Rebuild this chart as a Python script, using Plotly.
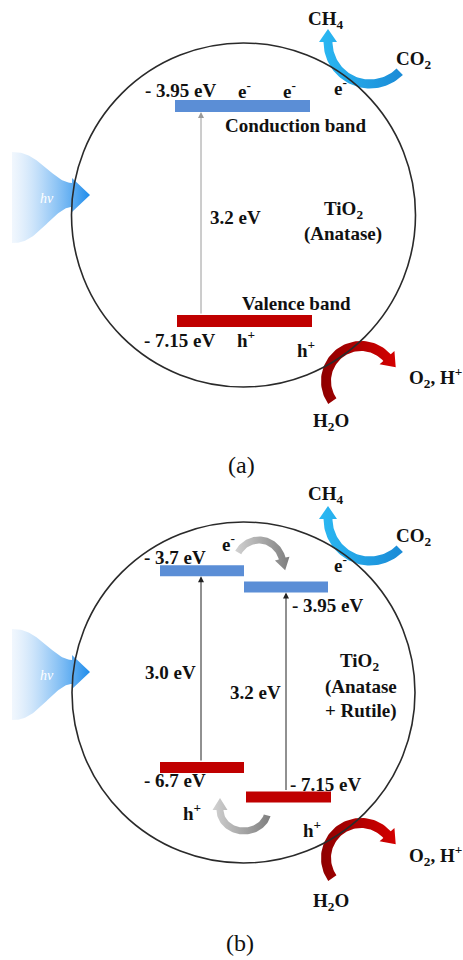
import numpy as np
import plotly.graph_objects as go

# ---------------- data ----------------
A_CB = [-3.95]                 # conduction band edge (eV), panel (a)
A_VB = [-7.15]                 # valence band edge (eV), panel (a)
A_GAP = ["3.2 eV"]
B_CB = [-3.7, -3.95]           # panel (b): rutile, anatase
B_VB = [-6.7, -7.15]
B_GAP = ["3.0 eV", "3.2 eV"]
A_MATERIAL = ["TiO<sub>2</sub>", "(Anatase)"]
B_MATERIAL = ["TiO<sub>2</sub>", "(Anatase", "+ Rutile)"]
PANEL_TAGS = ["(a)", "(b)"]

W, H = 463, 960
SERIF = "Liberation Serif, Times New Roman, serif"
TXT = "#111111"
BLUE_BAND = "#5B8ED6"
RED_BAND = "#C00000"


def elabel(E):
    return f"- {abs(E):g} eV"


# energy -> pixel scales for each panel
def ya(E):
    return 106 + 67.2 * (-3.95 - E)


def yb(E):
    return 570.7 + 65.6 * (-3.7 - E)


fig = go.Figure()


# ---------------- helpers ----------------
def arc_arrow(cx, cy, rx, ry, th0, th1, w, head_len, head_w, cscale):
    th = np.radians(np.linspace(th0, th1, 60))
    ox = cx + (rx + w / 2) * np.cos(th)
    oy = cy - (ry + w / 2) * np.sin(th)
    ix = cx + (rx - w / 2) * np.cos(th)
    iy = cy - (ry - w / 2) * np.sin(th)
    te = th[-1]
    ex, ey = cx + rx * np.cos(te), cy - ry * np.sin(te)
    if th1 < th0:
        dx, dy = rx * np.sin(te), ry * np.cos(te)
    else:
        dx, dy = -rx * np.sin(te), -ry * np.cos(te)
    n = np.hypot(dx, dy)
    dx, dy = dx / n, dy / n
    nx, ny = dy, -dx
    if (ex - cx) * nx + (ey - cy) * ny < 0:
        nx, ny = -nx, -ny
    h1 = (ex + nx * head_w / 2, ey + ny * head_w / 2)
    h2 = (ex - nx * head_w / 2, ey - ny * head_w / 2)
    tip = (ex + dx * head_len, ey + dy * head_len)
    xs = list(ox) + [h1[0], tip[0], h2[0]] + list(ix[::-1]) + [ox[0]]
    ys = list(oy) + [h1[1], tip[1], h2[1]] + list(iy[::-1]) + [oy[0]]
    fig.add_trace(go.Scatter(
        x=xs, y=ys, mode="lines", fill="toself", line=dict(width=0),
        fillgradient=dict(type="horizontal", colorscale=cscale),
        hoverinfo="skip", showlegend=False))


def light(dy):
    L, R, tipx = 12, 72, 90
    t = np.linspace(0, 1, 50)
    g = (3 * t ** 2 - 2 * t ** 3) ** 1.3
    xs_top = L + (R - L) * t
    ys_top = 152 + (183 - 152) * g
    xs_bot = xs_top[::-1]
    ys_bot = (243 + (207 - 243) * g)[::-1]
    xs = list(xs_top) + [R, tipx, R] + list(xs_bot) + [L]
    ys = list(ys_top) + [178, 195, 212] + list(ys_bot) + [152]
    fig.add_trace(go.Scatter(
        x=xs, y=[v + dy for v in ys], mode="lines", fill="toself",
        line=dict(width=0),
        fillgradient=dict(type="horizontal",
                          colorscale=[[0, "rgba(215,232,250,0.35)"],
                                      [0.45, "rgba(140,195,245,0.75)"],
                                      [1, "#1E8CEB"]]),
        hoverinfo="skip", showlegend=False))


BLUE_CS = [[0, "#2BB9F3"], [1, "#1A8AD6"]]
RED_CS = [[0, "#8E0000"], [1, "#D40000"]]
GRAY_CS = [[0, "#D2D2D2"], [1, "#7E7E7E"]]

for dy in (0, 477):
    light(dy)
    arc_arrow(370, 42 + dy, 42, 42, -45, -180, 9, 13, 18, BLUE_CS)
    arc_arrow(361, 381 + dy, 35, 35, 215, 42, 10, 13, 20, RED_CS)

# gray electron / hole transfer arrows in (b)
arc_arrow(259, 565, 24, 25, 150, 15, 7, 12, 15, GRAY_CS)
arc_arrow(244, 810, 24, 21, -15, -180, 7, 12, 15, GRAY_CS)

# ---------------- bands ----------------
cb_x0 = [175, 160, 244]
cb_x1 = [310, 244, 328]
vb_x0 = [177, 160, 246]
vb_x1 = [312, 244, 331]
cb_y = [ya(A_CB[0]), yb(B_CB[0]), yb(B_CB[1])]
vb_y = [ya(A_VB[0]), yb(B_VB[0]), yb(B_VB[1])]

fig.add_trace(go.Bar(orientation="h", y=cb_y,
                     x=[b - a for a, b in zip(cb_x0, cb_x1)], base=cb_x0,
                     width=[12, 11, 11], marker=dict(color=BLUE_BAND, line=dict(width=0)),
                     hoverinfo="skip", showlegend=False))
fig.add_trace(go.Bar(orientation="h", y=vb_y,
                     x=[b - a for a, b in zip(vb_x0, vb_x1)], base=vb_x0,
                     width=[12, 11, 11], marker=dict(color=RED_BAND, line=dict(width=0)),
                     hoverinfo="skip", showlegend=False))

# ---------------- text ----------------
ann = []


def T(text, x, y, size=19, bold=True, color=TXT, italic=False):
    s = text
    if italic:
        s = f"<i>{s}</i>"
    if bold:
        s = f"<b>{s}</b>"
    ann.append(dict(text=s, x=x, y=y, xref="x", yref="y", showarrow=False,
                    xanchor="center", yanchor="middle",
                    font=dict(family=SERIF, size=size, color=color)))


# panel (a)
T(elabel(A_CB[0]), 181, 90)
T("e<sup>-</sup>", 244, 90)
T("e<sup>-</sup>", 289, 90)
T("e<sup>-</sup>", 340, 87)
T("Conduction band", 295, 125)
T(A_GAP[0], 235, 217)
T(A_MATERIAL[0], 343, 210)
T(A_MATERIAL[1], 343, 234)
T("Valence band", 296, 303)
T(elabel(A_VB[0]), 180, 340)
T("h<sup>+</sup>", 246, 339)
T("h<sup>+</sup>", 306, 349)
T("CH<sub>4</sub>", 326, 20)
T("CO<sub>2</sub>", 414, 60)
T("O<sub>2</sub>, H<sup>+</sup>", 435, 377)
T("H<sub>2</sub>O", 331, 422)
T(PANEL_TAGS[0], 241, 465, size=24, bold=False)
T("hv", 47, 198, size=14, bold=False, color="white", italic=True)

# panel (b)
T(elabel(B_CB[0]), 175, 557)
T("e<sup>-</sup>", 228, 543)
T("e<sup>-</sup>", 340, 564)
T(elabel(B_CB[1]), 328, 605)
T(B_GAP[0], 170, 672)
T(B_GAP[1], 255, 692)
T(B_MATERIAL[0], 359, 662)
T(B_MATERIAL[1], 361, 687)
T(B_MATERIAL[2], 361, 711)
T(elabel(B_VB[0]), 175, 780)
T(elabel(B_VB[1]), 326, 784)
T("h<sup>+</sup>", 192, 812)
T("h<sup>+</sup>", 312, 829)
T("CH<sub>4</sub>", 326, 495)
T("CO<sub>2</sub>", 414, 537)
T("O<sub>2</sub>, H<sup>+</sup>", 435, 855)
T("H<sub>2</sub>O", 331, 902)
T(PANEL_TAGS[1], 240, 943, size=24, bold=False)
T("hv", 47, 675, size=14, bold=False, color="white", italic=True)

# excitation arrows (band gap)
gap_arrows = [
    (201, cb_y[0] + 6, vb_y[0] - 6, "#9A9A9A"),
    (201, cb_y[1] + 5.5, vb_y[1] - 5.5, "#222222"),
    (286, cb_y[2] + 5.5, vb_y[2] - 5.5, "#222222"),
]
for x, ytop, ybot, col in gap_arrows:
    ann.append(dict(text="", x=x, y=ytop, ax=x, ay=ybot, xref="x", yref="y",
                    axref="x", ayref="y", showarrow=True, arrowhead=2,
                    arrowsize=1.2, arrowwidth=1, arrowcolor=col, standoff=0))

shapes = [
    dict(type="circle", xref="x", yref="y", x0=71.5, x1=415.5, y0=43, y1=387,
         line=dict(color="#2a2a2a", width=1.6), layer="above"),
    dict(type="circle", xref="x", yref="y", x0=72, x1=415, y0=522, y1=863,
         line=dict(color="#2a2a2a", width=1.6), layer="above"),
]

fig.update_layout(
    width=W, height=H, margin=dict(l=0, r=0, t=0, b=0),
    paper_bgcolor="white", plot_bgcolor="white",
    barmode="overlay", showlegend=False,
    xaxis=dict(range=[0, W], visible=False, fixedrange=True),
    yaxis=dict(range=[H, 0], visible=False, fixedrange=True),
    annotations=ann, shapes=shapes,
)

fig.write_html("out.html")
